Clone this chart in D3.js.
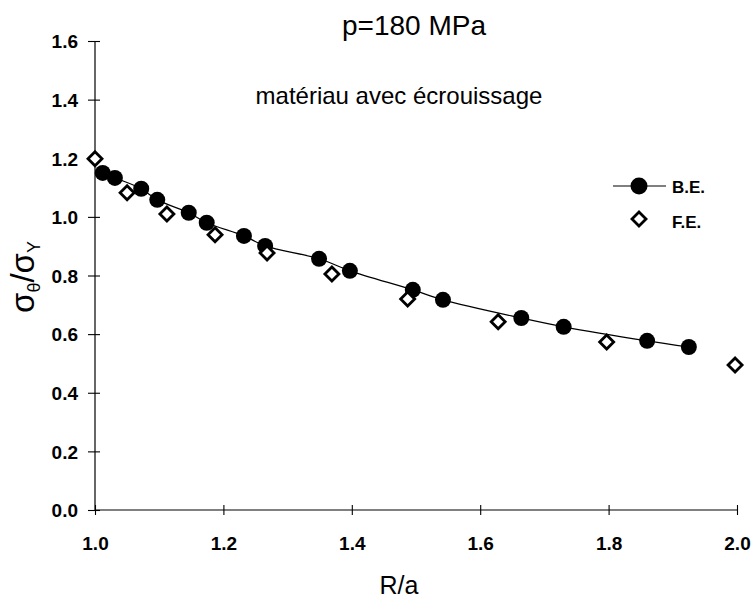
<!DOCTYPE html>
<html>
<head>
<meta charset="utf-8">
<script src="https://cdn.jsdelivr.net/npm/d3@7"></script>
<style>
  body { margin: 0; background: #fff; }
  svg text { font-family: "Liberation Sans", Arial, sans-serif; fill: #000; }
</style>
</head>
<body>
<div id="chart"></div>
<script>
// B.E. series (circles + smooth line)
var beR = [1.012, 1.031, 1.072, 1.097, 1.146, 1.174, 1.232, 1.265, 1.349, 1.397, 1.495, 1.542, 1.664, 1.730, 1.860, 1.925];
var beV = [1.150, 1.133, 1.096, 1.058, 1.014, 0.980, 0.935, 0.901, 0.857, 0.816, 0.751, 0.717, 0.655, 0.625, 0.577, 0.556];
// F.E. series (open diamonds)
var feR = [1.000, 1.050, 1.112, 1.187, 1.268, 1.369, 1.487, 1.628, 1.797, 1.997];
var feV = [1.198, 1.082, 1.010, 0.939, 0.877, 0.805, 0.720, 0.642, 0.573, 0.495];

var xTicks = [1.0, 1.2, 1.4, 1.6, 1.8, 2.0];
var yTicks = [0.0, 0.2, 0.4, 0.6, 0.8, 1.0, 1.2, 1.4, 1.6];

var W = 752, H = 602;

var svg = d3.select('#chart')
    .append('svg')
    .attr('width', W)
    .attr('height', H);

var x = d3.scaleLinear().domain([1, 2]).range([95, 737]);
var y = d3.scaleLinear().domain([0, 1.6]).range([510, 41]);

var be = beR.map(function (r, i) { return { r: r, v: beV[i] }; });
var fe = feR.map(function (r, i) { return { r: r, v: feV[i] }; });

// axes
var yAxis = d3.axisLeft(y).tickValues(yTicks).tickSize(7).tickFormat(d3.format('.1f'));
var xAxis = d3.axisBottom(x).tickValues(xTicks).tickSize(5).tickFormat(d3.format('.1f'));

var gy = svg.append('g')
    .attr('transform', 'translate(' + x(1) + ',0)')
    .call(yAxis);
gy.select('.domain').attr('d', 'M0,' + y(1.6) + 'V' + y(0)).attr('stroke-width', 1.2);
gy.selectAll('.tick line').attr('x1', 5).attr('x2', -7).attr('stroke-width', 1.1);
gy.selectAll('.tick text')
    .attr('x', -17)
    .attr('dy', '0.36em')
    .style('font-size', '19px')
    .style('font-weight', 'bold');

var gx = svg.append('g')
    .attr('transform', 'translate(0,' + y(0) + ')')
    .call(xAxis);
gx.select('.domain').attr('d', 'M' + x(1) + ',0H' + x(2)).attr('stroke-width', 1.2);
gx.selectAll('.tick line').attr('y1', -5).attr('y2', 5).attr('stroke-width', 1.1);
gx.selectAll('.tick text')
    .attr('y', 40)
    .attr('dy', 0)
    .style('font-size', '19px')
    .style('font-weight', 'bold');

// smooth line through B.E.
var line = d3.line()
    .x(function (d) { return x(d.r); })
    .y(function (d) { return y(d.v); })
    .curve(d3.curveCatmullRom);

svg.append('path')
    .datum(be)
    .attr('d', line)
    .attr('fill', 'none')
    .attr('stroke', '#000')
    .attr('stroke-width', 1.2);

svg.selectAll('circle.be')
    .data(be)
    .enter()
    .append('circle')
    .attr('class', 'be')
    .attr('cx', function (d) { return x(d.r); })
    .attr('cy', function (d) { return y(d.v); })
    .attr('r', 8)
    .attr('fill', '#000');

var diamond = 'M0,-7L7,0L0,7L-7,0Z';
svg.selectAll('path.fe')
    .data(fe)
    .enter()
    .append('path')
    .attr('class', 'fe')
    .attr('d', diamond)
    .attr('transform', function (d) { return 'translate(' + x(d.r) + ',' + y(d.v) + ')'; })
    .attr('fill', '#fff')
    .attr('stroke', '#000')
    .attr('stroke-width', 2.8);

// legend
var lg = svg.append('g');
lg.append('line').attr('x1', 613).attr('x2', 666).attr('y1', 186).attr('y2', 186)
    .attr('stroke', '#000').attr('stroke-width', 1.2);
lg.append('circle').attr('cx', 639).attr('cy', 186).attr('r', 8.5).attr('fill', '#000');
lg.append('text').attr('x', 672).attr('y', 193).text('B.E.')
    .style('font-size', '17px').style('font-weight', 'bold');
lg.append('path').attr('d', diamond).attr('transform', 'translate(639,219)')
    .attr('fill', '#fff').attr('stroke', '#000').attr('stroke-width', 2.8);
lg.append('text').attr('x', 672).attr('y', 228).text('F.E.')
    .style('font-size', '17px').style('font-weight', 'bold');

// titles
svg.append('text').attr('x', 414).attr('y', 35).attr('text-anchor', 'middle')
    .style('font-size', '28px').text('p=180 MPa');
svg.append('text').attr('x', 399).attr('y', 104).attr('text-anchor', 'middle')
    .style('font-size', '24px').text('matériau avec écrouissage');

svg.append('text').attr('x', 399).attr('y', 594).attr('text-anchor', 'middle')
    .style('font-size', '25px').text('R/a');

var yl = svg.append('text')
    .attr('transform', 'translate(34,277) rotate(-90)')
    .attr('text-anchor', 'middle')
    .style('font-size', '33px');
yl.append('tspan').text('σ');
yl.append('tspan').attr('dy', 6).style('font-size', '18px').text('θ');
yl.append('tspan').attr('dy', -6).text('/σ');
yl.append('tspan').attr('dy', 6).style('font-size', '18px').text('Y');
</script>
</body>
</html>
